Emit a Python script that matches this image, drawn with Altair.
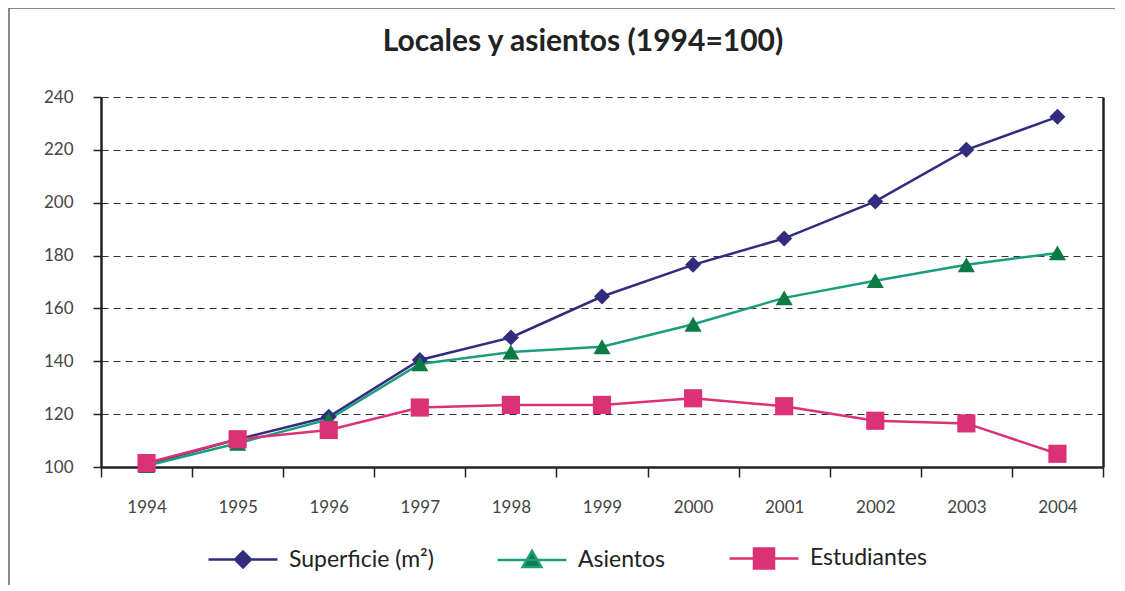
import altair as alt
import pandas as pd

years = ["1994", "1995", "1996", "1997", "1998", "1999", "2000", "2001", "2002", "2003", "2004"]
superficie = [101, 110.5, 119, 140.5, 149, 164.5, 176.5, 186.5, 200.5, 220, 232.5]
asientos = [100.5, 109, 118, 139, 143.5, 145.5, 154, 164, 170.5, 176.5, 181]
estudiantes = [101.5, 110.5, 114, 122.5, 123.5, 123.5, 126, 123, 117.5, 116.5, 105]

series_names = ["Superficie (m²)", "Asientos", "Estudiantes"]
line_colors = ["#312C7E", "#1B9E7E", "#DB3177"]
marker_colors = ["#312C7E", "#0B7A45", "#DB3177"]
marker_shapes = ["diamond", "triangle-up", "square"]
marker_sizes = [256, 330, 400]
y_ticks = [100, 120, 140, 160, 180, 200, 220, 240]
title_text = "Locales y asientos (1994=100)"

FONT = "Lato"

rows = []
for name, vals in zip(series_names, [superficie, asientos, estudiantes]):
    for yr, v in zip(years, vals):
        rows.append({"year": yr, "value": v, "serie": name, "order": series_names.index(name)})
df = pd.DataFrame(rows)

W, H = 1002, 370

x_enc = alt.X(
    "year:O",
    sort=years,
    bandPosition=0.5,
    scale=alt.Scale(type="band", paddingInner=0, paddingOuter=0, domain=years),
    axis=alt.Axis(
        title=None, labelAngle=0, tickBand="extent", tickSize=10, tickColor="#222",
        tickWidth=1.5, domainColor="#222", domainWidth=2.5, labelFontSize=17,
        labelColor="#444", labelPadding=22, labelFont=FONT, grid=False,
    ),
)
y_scale = alt.Scale(domain=[100, 240], nice=False, zero=False)

base = alt.Chart(df)

lines = base.mark_line(strokeWidth=2.5).encode(
    x=x_enc,
    y=alt.Y(
        "value:Q", scale=y_scale,
        axis=alt.Axis(
            title=None, values=y_ticks, tickSize=8, tickColor="#222", tickWidth=1.5,
            domainColor="#222", domainWidth=2.5, labelFontSize=17, labelColor="#444",
            labelPadding=20, labelFont=FONT, grid=True, gridColor="#333",
            gridDash=[7, 5], gridWidth=1,
        ),
    ),
    color=alt.Color("serie:N", scale=alt.Scale(domain=series_names, range=line_colors), legend=None),
    detail="serie:N",
    order="order:Q",
)

points = base.mark_point(filled=True, opacity=1).encode(
    x=x_enc,
    y=alt.Y("value:Q", scale=y_scale, axis=None),
    color=alt.Color("serie:N", scale=alt.Scale(domain=series_names, range=marker_colors), legend=None),
    shape=alt.Shape("serie:N", scale=alt.Scale(domain=series_names, range=marker_shapes), legend=None),
    size=alt.Size("serie:N", scale=alt.Scale(domain=series_names, range=marker_sizes), legend=None),
)

legend_paths = [
    "M-1,0H1M0,-0.23L0.23,0L0,0.23L-0.23,0Z",
    "M-1,0H1M0,-0.26L0.27,0.21L-0.27,0.21Z",
    "M-1,0H1M-0.29,-0.29H0.29V0.29H-0.29Z",
]

legend_layer = base.mark_point(filled=True, opacity=1).encode(
    x=x_enc,
    y=alt.Y(
        "value:Q", scale=y_scale,
        axis=alt.Axis(orient="right", title=None, labels=False, ticks=False, grid=False,
                      domain=True, domainColor="#222", domainWidth=2.5),
    ),
    fill=alt.Fill("serie:N", scale=alt.Scale(domain=series_names, range=marker_colors),
                  legend=alt.Legend(title=None)),
    stroke=alt.Stroke("serie:N", scale=alt.Scale(domain=series_names, range=line_colors),
                      legend=alt.Legend(title=None)),
    shape=alt.Shape(
        "serie:N", scale=alt.Scale(domain=series_names, range=legend_paths),
        legend=alt.Legend(
            title=None, orient="none", direction="horizontal", legendX=106, legendY=425,
            symbolSize=4761, symbolStrokeWidth=2.5, symbolOpacity=1,
            labelFontSize=23, labelColor="#222", labelFont=FONT, labelOffset=10,
            columnPadding=58, padding=0,
        ),
    ),
).transform_filter("false")

frame = alt.Chart(alt.Data(values=[{"a": 1}])).mark_rect(
    fill="transparent", stroke="#666", strokeWidth=1.5
).encode(
    x=alt.value(-92), x2=alt.value(1200), y=alt.value(-89), y2=alt.value(700)
)

chart = alt.layer(frame, lines, points, legend_layer).resolve_scale(
    color="independent", fill="independent", stroke="independent",
    shape="independent", size="independent",
).resolve_axis(y="independent").properties(
    width=W, height=H,
    title=alt.TitleParams(
        title_text, anchor="middle", fontSize=30, fontWeight="bold", font=FONT,
        color="#222", offset=0, dy=74, dx=-19, baseline="alphabetic", frame="group",
    ),
    autosize=alt.AutoSizeParams(type="none"),
    padding={"left": 93, "top": 89, "right": 12, "bottom": 118},
).configure_view(stroke=None)

chart.save("out.html", embed_options={"renderer": "svg", "actions": False})
